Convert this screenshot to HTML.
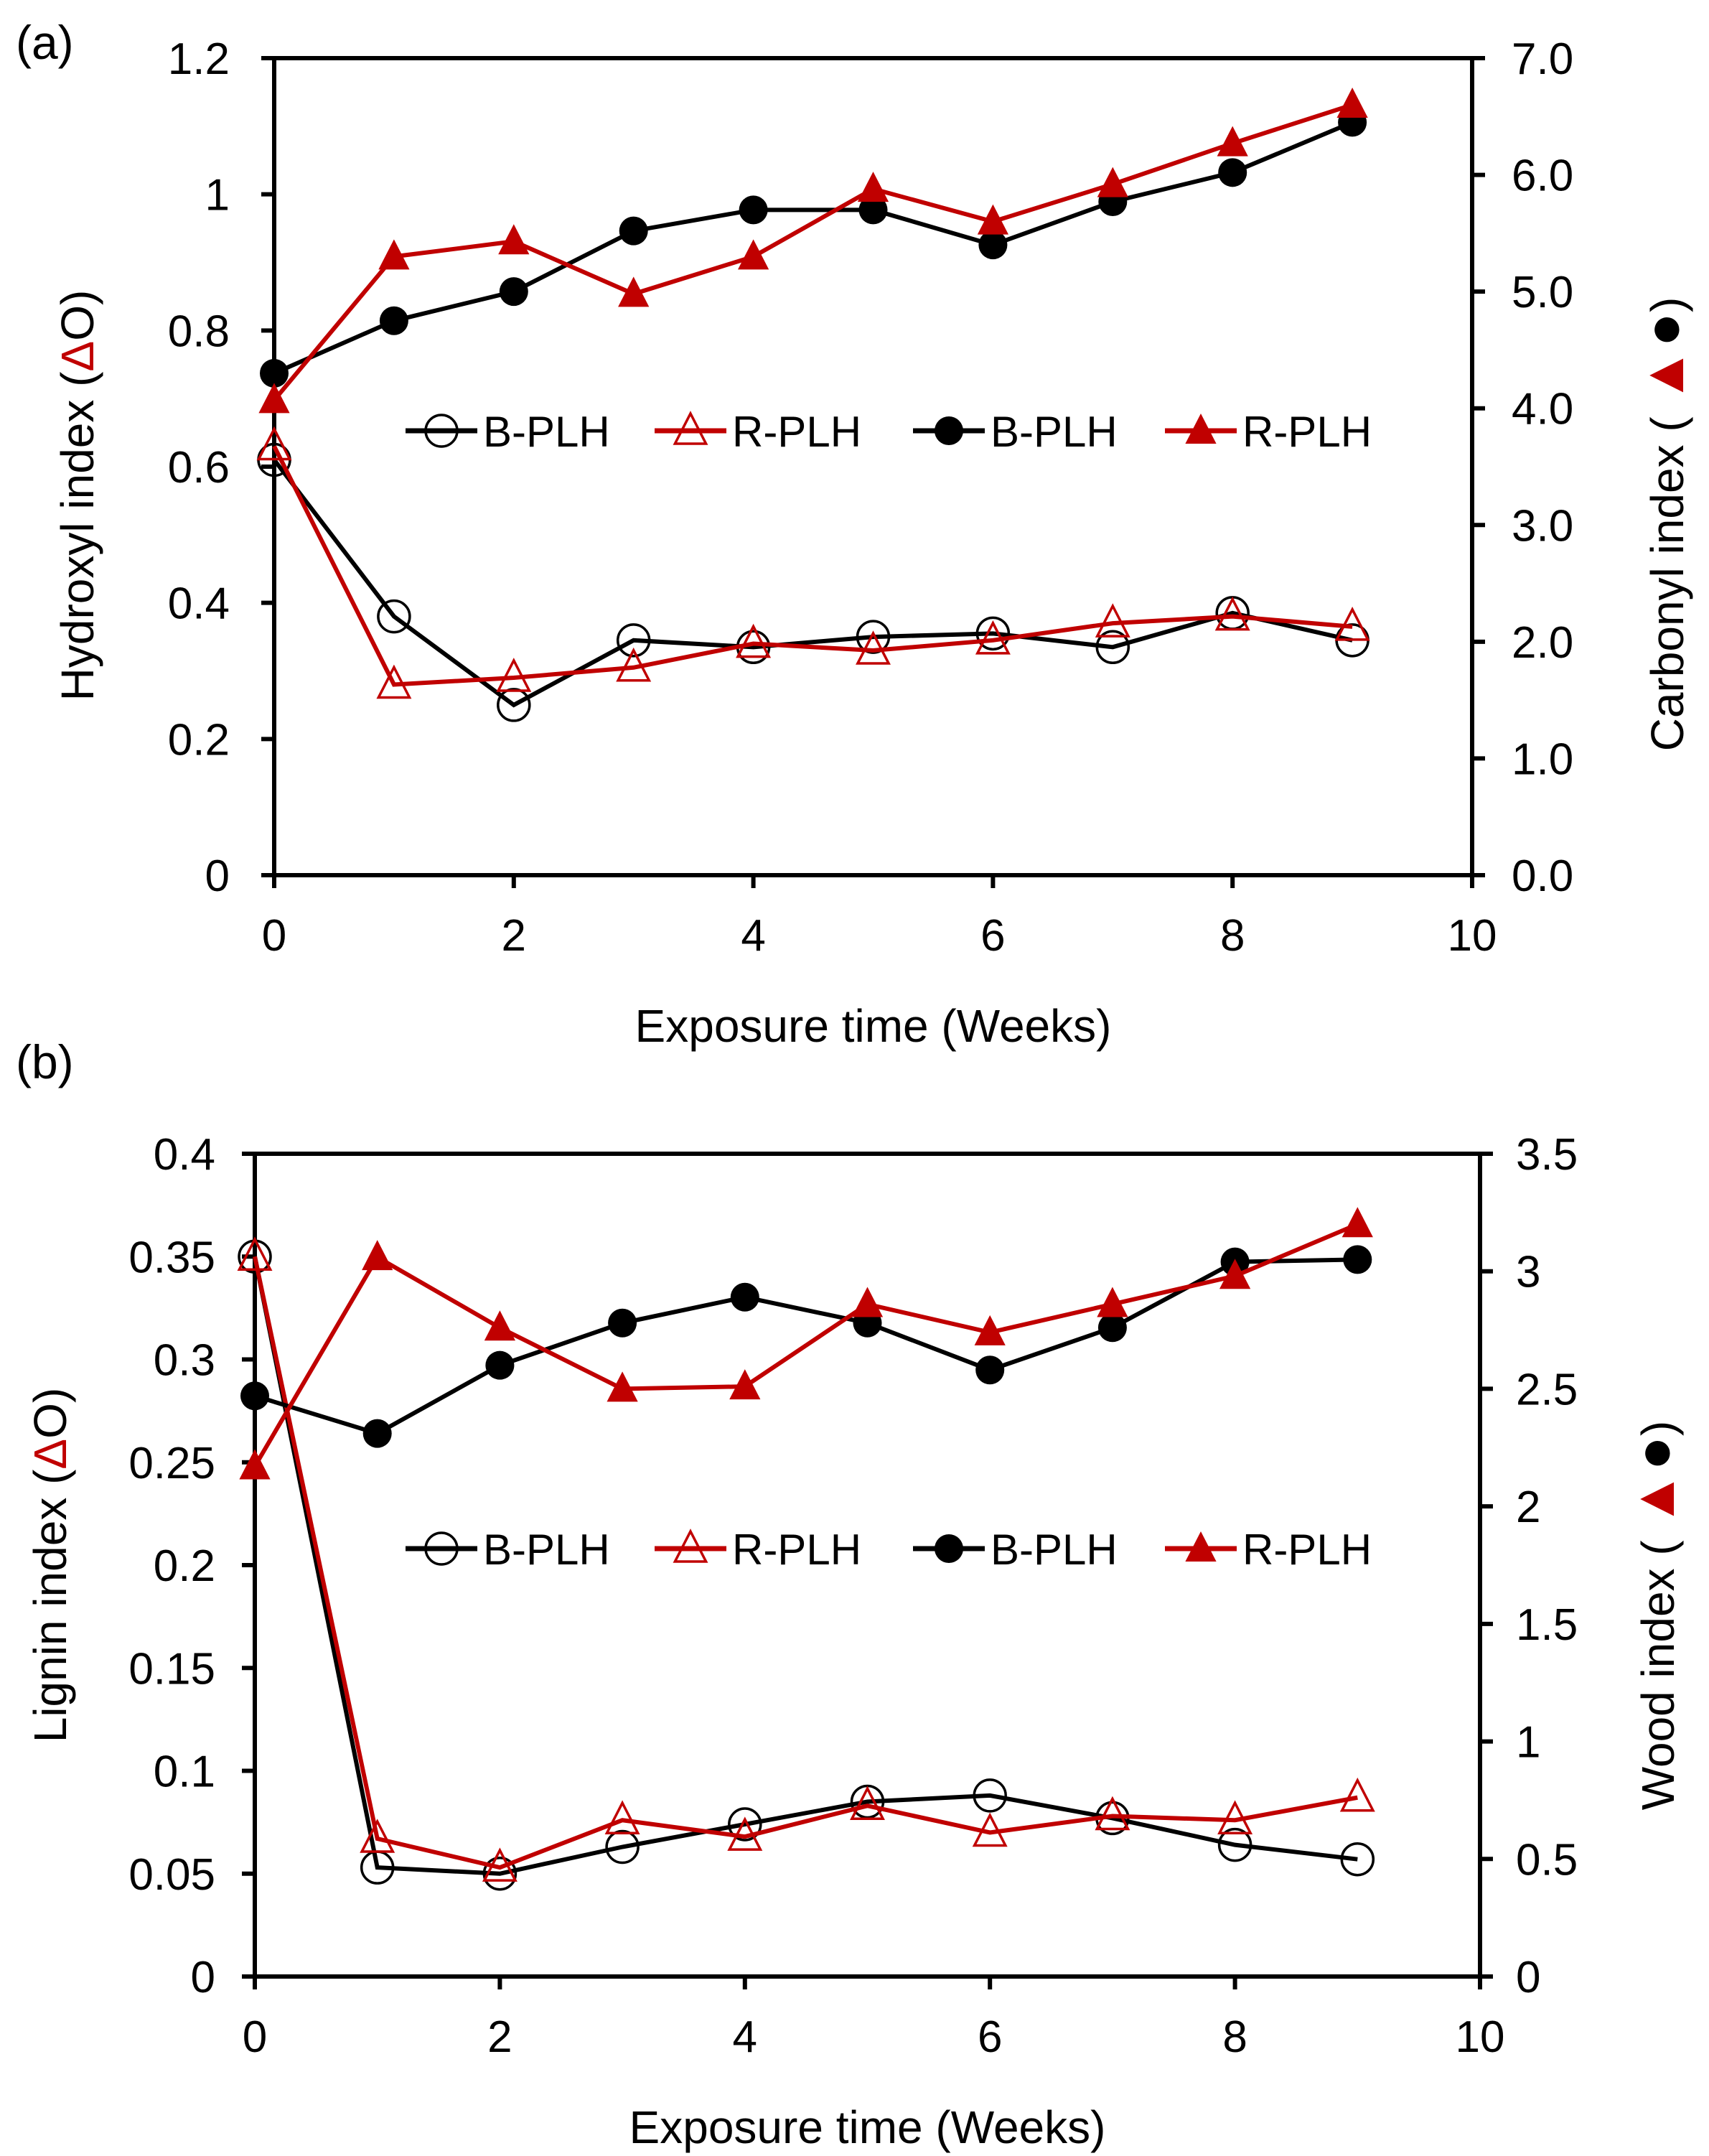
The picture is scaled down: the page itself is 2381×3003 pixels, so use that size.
<!DOCTYPE html>
<html><head><meta charset="utf-8"><style>
html,body{margin:0;padding:0;background:#fff;}
svg{display:block;font-family:"Liberation Sans",Arial,sans-serif;}
</style></head><body>
<svg id="fig" width="2381" height="3003" viewBox="0 0 2381 3003" xmlns="http://www.w3.org/2000/svg"></svg>
<script>
const weeks=[0,1,2,3,4,5,6,7,8,9];
const xTicks=[0,2,4,6,8,10];
// panel a
const aHydroxylB=[0.61,0.38,0.25,0.345,0.335,0.35,0.355,0.335,0.385,0.345];
const aHydroxylR=[0.63,0.28,0.29,0.305,0.34,0.33,0.345,0.37,0.38,0.365];
const aCarbonylB=[4.3,4.75,5.0,5.52,5.7,5.7,5.4,5.77,6.02,6.45];
const aCarbonylR=[4.07,5.3,5.43,4.98,5.3,5.88,5.6,5.92,6.27,6.6];
const aLeftTicks=["0","0.2","0.4","0.6","0.8","1","1.2"];
const aRightTicks=["0.0","1.0","2.0","3.0","4.0","5.0","6.0","7.0"];
// panel b
const bLigninB=[0.35,0.053,0.05,0.063,0.074,0.085,0.088,0.077,0.064,0.057];
const bLigninR=[0.35,0.067,0.053,0.076,0.068,0.083,0.07,0.078,0.076,0.087];
const bWoodB=[2.47,2.31,2.6,2.78,2.89,2.78,2.58,2.76,3.04,3.05];
const bWoodR=[2.17,3.06,2.76,2.5,2.51,2.86,2.74,2.86,2.98,3.2];
const bLeftTicks=["0","0.05","0.1","0.15","0.2","0.25","0.3","0.35","0.4"];
const bRightTicks=["0","0.5","1","1.5","2","2.5","3","3.5"];

const NS="http://www.w3.org/2000/svg";
const svg=document.getElementById('fig');
const RED="#c00000";
function mk(tag,attrs,parent,text){const e=document.createElementNS(NS,tag);for(const k in attrs)e.setAttribute(k,attrs[k]);if(text!==undefined)e.textContent=text;(parent||svg).appendChild(e);return e;}

function marker(g,kind,cx,cy){
  let e;
  if(kind==='oc'){e=mk('circle',{cx,cy,r:22,fill:'#fff','fill-opacity':0,stroke:'#000','stroke-width':3.5},g);}
  else if(kind==='fc'){e=mk('circle',{cx,cy,r:20,fill:'#000'},g);}
  else {const s=24;const pts=`${cx},${cy-s} ${cx+s*0.9},${cy+s*0.75} ${cx-s*0.9},${cy+s*0.75}`;
    e=kind==='ot'?mk('polygon',{points:pts,fill:'none',stroke:RED,'stroke-width':3.5},g):mk('polygon',{points:pts,fill:RED},g);}
  
  
  return e;
}

function panel(p){
  const g=mk('g',{});
  
  
  const X=v=>p.L+(p.R-p.L)*v/10;
  const YL=v=>p.B-(p.B-p.T)*v/p.lmax;
  const YR=v=>p.B-(p.B-p.T)*v/p.rmax;
  const fr=mk('path',{d:`M${p.L},${p.B} L${p.L},${p.T} M${p.L-18},${p.T} L${p.R+18},${p.T} M${p.R},${p.T} L${p.R},${p.B} M${p.L-18},${p.B} L${p.R+18},${p.B}`,stroke:'#000','stroke-width':6,fill:'none'},g);
  
  p.lt.forEach((t,i)=>{const y=p.B-(p.B-p.T)*i/(p.lt.length-1);
    mk('line',{x1:p.L-18,x2:p.L,y1:y,y2:y,stroke:'#000','stroke-width':6},g);
    const tx=mk('text',{x:p.L-p.lgap,y:y+22,'font-size':62,'text-anchor':'end',fill:'#000'},g,t);
    });
  p.rt.forEach((t,i)=>{const y=p.B-(p.B-p.T)*i/(p.rt.length-1);
    mk('line',{x1:p.R,x2:p.R+18,y1:y,y2:y,stroke:'#000','stroke-width':6},g);
    const tx=mk('text',{x:p.R+p.rgap,y:y+22,'font-size':62,'text-anchor':'start',fill:'#000'},g,t);
    });
  xTicks.forEach(t=>{const x=X(t);
    mk('line',{x1:x,x2:x,y1:p.B,y2:p.B+18,stroke:'#000','stroke-width':6},g);
    const tx=mk('text',{x:x,y:p.B+105,'font-size':62,'text-anchor':'middle',fill:'#000'},g,String(t));
    });
  const series=[[p.sOC,YL,'#000','oc'],[p.sOT,YL,RED,'ot'],[p.sFC,YR,'#000','fc'],[p.sFT,YR,RED,'ft']];
  series.forEach(([d,Y,c,k])=>{
    const sg=mk('g',{},g);
    
    const pl=mk('polyline',{points:d.map((v,i)=>X(weeks[i])+','+Y(v)).join(' '),fill:'none',stroke:c,'stroke-width':6},sg);
    
    d.forEach((v,i)=>marker(sg,k,X(weeks[i]),Y(v)));
  });
  const lg=mk('g',{},g);
  
  const ly=p.ly;
  [[565,'#000','oc','B-PLH'],[912,RED,'ot','R-PLH'],[1272,'#000','fc','B-PLH'],[1623,RED,'ft','R-PLH']].forEach(([lx,c,k,t])=>{
    const eg=mk('g',{},lg);
    
    mk('line',{x1:lx,x2:lx+100,y1:ly,y2:ly,stroke:c,'stroke-width':7},eg);
    marker(eg,k,lx+50,ly);
    mk('text',{x:lx+108,y:ly+22,'font-size':60,fill:'#000'},eg,t);
  });
  const xt=mk('text',{x:(p.L+p.R)/2,y:p.B+232,'font-size':64,'text-anchor':'middle',fill:'#000'},g,'Exposure time (Weeks)');
  
  const lt=mk('text',{x:0,y:0,'font-size':64,'text-anchor':'middle',fill:'#000',transform:`translate(${p.ltx},${p.lty}) rotate(-90)`},g);
  
  mk('tspan',{},lt,p.ltitle+' (');mk('tspan',{fill:RED},lt,'Δ');mk('tspan',{},lt,'O)');
  const rt=mk('text',{x:0,y:0,'font-size':64,'text-anchor':'middle',fill:'#000',transform:`translate(${p.rtx},${p.rty}) rotate(-90)`},g);
  
  mk('tspan',{},rt,p.rtitle+' ( ');mk('tspan',{fill:RED,'font-size':80},rt,'▲');mk('tspan',{'font-size':80},rt,'●');mk('tspan',{},rt,')');
  const pl=mk('text',{x:p.labx,y:p.laby,'font-size':66,fill:'#000'},g,p.label);
  
}

panel({name:'panel-a',L:382,R:2051,T:81,B:1219,lmax:1.2,rmax:7,lt:aLeftTicks,rt:aRightTicks,lgap:62,rgap:55,
  sOC:aHydroxylB,sOT:aHydroxylR,sFC:aCarbonylB,sFT:aCarbonylR,ly:600,
  ltitle:'Hydroxyl index',rtitle:'Carbonyl index',ltx:130,lty:690,rtx:2345,rty:730,label:'(a)',labx:22,laby:82});
panel({name:'panel-b',L:355,R:2062,T:1607,B:2753,lmax:0.4,rmax:3.5,lt:bLeftTicks,rt:bRightTicks,lgap:55,rgap:50,
  sOC:bLigninB,sOT:bLigninR,sFC:bWoodB,sFT:bWoodR,ly:2157,
  ltitle:'Lignin index',rtitle:'Wood index',ltx:92,lty:2180,rtx:2332,rty:2250,label:'(b)',labx:22,laby:1502});
</script>
</body></html>
